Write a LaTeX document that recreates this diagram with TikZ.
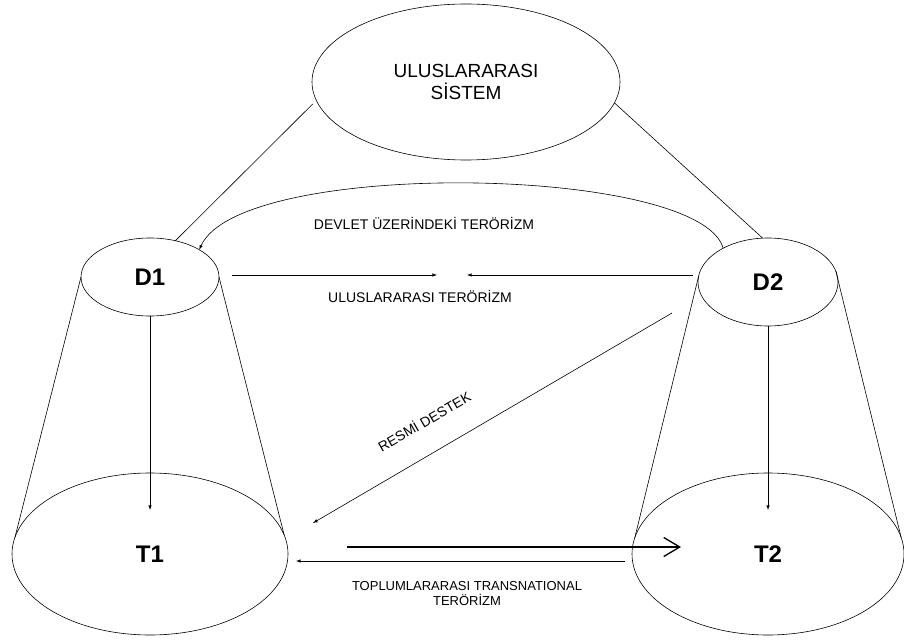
\documentclass[tikz,border=0pt]{standalone}
\usepackage{fontspec}
\setmainfont{Liberation Sans}
\usepackage{tikz}
\usetikzlibrary{arrows}
\usetikzlibrary{arrows.meta}
\usetikzlibrary{shapes.geometric}

\begin{document}
\begin{tikzpicture}[x=1pt,y=-1pt,
  -,>=latex,semithick,
  lbl/.style={font=\fontsize{14}{15}\selectfont,align=center,inner sep=0pt},
  chevron/.style={-{Straight Barb[length=16pt,width=19pt]},line width=1.3pt}]
      \tikzstyle{bubble}=[draw,ellipse,inner sep=0pt,outer sep=0pt,font=\fontsize{24}{28}\selectfont\bfseries]

     \useasboundingbox (0,0) rectangle (904,644);

     \node [bubble,minimum width=308pt,minimum height=156pt,align=center,
            font=\fontsize{19}{22}\selectfont] (sis) at (466,82) {ULUSLARARASI\\SİSTEM};
     \node [bubble,minimum width=138pt,minimum height=78pt] (d1) at (150,277) {D1};
     \node [bubble,minimum width=140pt,minimum height=88pt] (d2) at (768,282) {D2};
     \node [bubble,minimum width=276pt,minimum height=162pt] (t1) at (150,554) {T1};
     \node [bubble,minimum width=272pt,minimum height=162pt] (t2) at (768,554) {T2};

     % cone sides
     \draw (d1.west) -- (t1.173);
     \draw (d1.east) -- (t1.8);
     \draw (d2.175) -- (t2.173);
     \draw (d2.9) -- (t2.7);

     % system links
     \draw [shorten <=5pt] (sis.187) -- (d1.55);
     \draw (sis.352) -- (d2.97);

     % state terrorism
     \draw [->] (d2.143) .. controls (700,165) and (240,158) .. (d1.29);
     \node [lbl] (devlet) at (424,223) {DEVLET ÜZERİNDEKİ TERÖRİZM};

     % international terrorism
     \coordinate (itl) at (437,275);
     \coordinate (itr) at (467,275);
     \draw [->,shorten <=13pt] (d1.east |- itl) -- (itl);
     \draw [->,shorten <=5pt] (d2.west |- itr) -- (itr);
     \node [lbl] (ulter) at (420,296) {ULUSLARARASI TERÖRİZM};

     % official support
     \coordinate (rdbas) at (672,313);
     \coordinate (rdson) at (313,523);
     \draw [->] (rdbas) -- (rdson);
     \node [lbl,rotate=30] (resmi) at (424,421) {RESMİ DESTEK};

     % state to society
     \draw [->,shorten >=44pt] (d1.south) -- (t1.center);
     \draw [->,shorten >=44pt] (d2.south) -- (t2.center);

     % transnational terrorism
     \coordinate (tt1) at (347,547);
     \coordinate (tt2) at (681,547);
     \draw [chevron] (tt1) -- (tt2);
     \draw [->,shorten <=7pt,shorten >=8pt] ([yshift=-7pt]t2.west) -- ([yshift=-7pt]t1.east);
     \node [lbl,font=\fontsize{13}{15}\selectfont] (toplum) at (467,594) {TOPLUMLARARASI TRANSNATIONAL\\TERÖRİZM};

\end{tikzpicture}
\end{document}
